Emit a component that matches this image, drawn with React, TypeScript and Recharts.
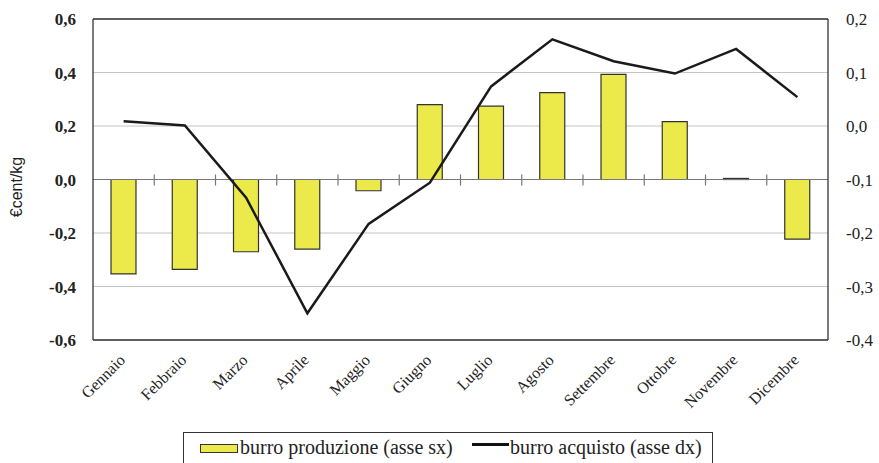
import React from 'react';
import { ComposedChart, Bar, Line, XAxis, YAxis, CartesianGrid, ReferenceLine, Legend } from 'recharts';

const months = ['Gennaio', 'Febbraio', 'Marzo', 'Aprile', 'Maggio', 'Giugno', 'Luglio', 'Agosto', 'Settembre', 'Ottobre', 'Novembre', 'Dicembre'];
const produzione = [-0.353, -0.336, -0.27, -0.26, -0.042, 0.28, 0.274, 0.325, 0.393, 0.216, 0.004, -0.223];
const acquisto = [0.009, 0.001, -0.134, -0.35, -0.183, -0.106, 0.074, 0.162, 0.121, 0.098, 0.144, 0.054];
const leftTicks = [-0.6, -0.4, -0.2, 0, 0.2, 0.4, 0.6];
const rightTicks = [-0.4, -0.3, -0.2, -0.1, 0, 0.1, 0.2];

const data = months.map((m, i) => ({ month: m, prod: produzione[i], acq: acquisto[i] }));

const fmt = (v: number) => v.toFixed(1).replace('.', ',');
const serif = "'Liberation Serif', 'Times New Roman', serif";
const textColor = '#222';

const XTick = (props: any) => {
  const { x, y, payload } = props;
  const ax = Number(x) + 2.5;
  const ay = Number(y) + 13;
  return (
    <g transform={`translate(${ax},${ay})`}>
      <text x={0} y={0} transform="rotate(-45)" textAnchor="end" fontFamily={serif} fontSize={16} fill={textColor}>
        {payload.value}
      </text>
    </g>
  );
};

const ZeroLine = (props: any) => {
  const { x1, x2, y1 } = props;
  const n = months.length;
  const step = (x2 - x1) / n;
  const marks = [];
  for (let k = 1; k < n; k++) {
    const xx = x1 + k * step;
    marks.push(<line key={k} x1={xx} x2={xx} y1={y1 - 5} y2={y1 + 6} stroke="#777" strokeWidth={1.2} />);
  }
  return (
    <g>
      <line x1={x1} x2={x2} y1={y1} y2={y1} stroke="#777" strokeWidth={1.2} />
      {marks}
    </g>
  );
};

const LegendContent = () => (
  <div style={{ width: 530, height: 40, border: '1.3px solid #333', boxSizing: 'border-box', position: 'relative', fontFamily: serif, fontSize: 20, color: textColor }}>
    <div style={{ position: 'absolute', left: 16, top: 11, width: 38, height: 9, background: '#ECE94A', border: '1.3px solid #333', boxSizing: 'border-box' }} />
    <span style={{ position: 'absolute', left: 56, top: 3, whiteSpace: 'nowrap', lineHeight: '22px' }}>burro produzione (asse sx)</span>
    <div style={{ position: 'absolute', left: 288, top: 10, width: 37, height: 2.5, background: '#111' }} />
    <span style={{ position: 'absolute', left: 326, top: 3, whiteSpace: 'nowrap', lineHeight: '22px' }}>burro acquisto (asse dx)</span>
  </div>
);

const YLabel = () => (
  <text x={16} y={187} transform="rotate(-90, 16, 187)" textAnchor="middle" dominantBaseline="central" fontFamily="'Liberation Sans', Arial, sans-serif" fontSize={16} fill={textColor}>
    €cent/kg
  </text>
);

export default function App() {
  return (
    <div style={{ position: 'absolute', left: 0, top: 0, width: 879, height: 463, overflow: 'hidden', background: '#fff' }}>
      <ComposedChart width={879} height={463} data={data} margin={{ top: 19, right: 0, left: 0, bottom: 0 }}>
        <CartesianGrid yAxisId="left" vertical={false} stroke="#c4c4c4" strokeWidth={1.2} />
        <XAxis
          dataKey="month"
          height={123}
          interval={0}
          tick={(p: any) => <XTick {...p} />}
          tickLine={false}
          axisLine={{ stroke: '#333', strokeWidth: 1.3 }}
        />
        <YAxis
          yAxisId="left"
          width={93}
          domain={[-0.6, 0.6]}
          ticks={leftTicks}
          tickFormatter={fmt}
          tickLine={false}
          tickMargin={11}
          axisLine={{ stroke: '#333', strokeWidth: 1.3 }}
          tick={{ fontFamily: serif, fontSize: 17, fill: textColor, fontWeight: 'bold' }}
          label={<YLabel />}
        />
        <YAxis
          yAxisId="right"
          orientation="right"
          width={51}
          domain={[-0.4, 0.2]}
          ticks={rightTicks}
          tickFormatter={fmt}
          tickLine={false}
          tickMargin={12}
          axisLine={{ stroke: '#333', strokeWidth: 1.3 }}
          tick={{ fontFamily: serif, fontSize: 17, fill: textColor }}
        />
        <ReferenceLine yAxisId="left" y={0.6} stroke="#333" strokeWidth={1.3} />
        <ReferenceLine yAxisId="left" y={0} shape={<ZeroLine />} />
        <Bar yAxisId="left" dataKey="prod" fill="#ECE94A" stroke="#333" strokeWidth={1.2} barSize={25} isAnimationActive={false} />
        <Line yAxisId="right" dataKey="acq" type="linear" stroke="#1a1a1a" strokeWidth={2.5} dot={false} isAnimationActive={false} />
        <Legend
          layout="vertical"
          align="center"
          verticalAlign="middle"
          content={<LegendContent />}
          wrapperStyle={{ position: 'absolute', left: 183, top: 432, width: 530, height: 40 }}
        />
      </ComposedChart>
    </div>
  );
}
